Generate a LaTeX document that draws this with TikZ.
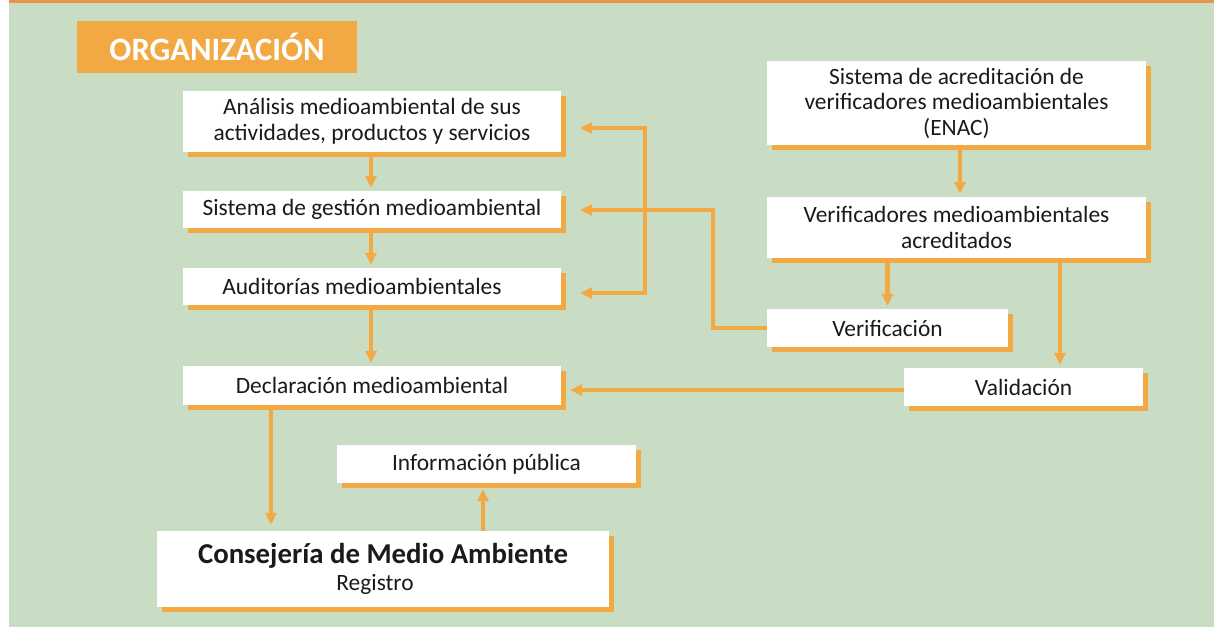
\documentclass[tikz,border=0pt]{standalone}
\usepackage{fontspec}
\setmainfont{Carlito}
\usetikzlibrary{arrows.meta,shadows,calc}
\definecolor{bggreen}{HTML}{C9DDC5}
\definecolor{boxorange}{HTML}{F2A843}
\definecolor{topline}{HTML}{E8924B}
\definecolor{txt}{HTML}{1A1A1A}
\tikzset{
  stepbox/.style={fill=white, draw=none, inner sep=0pt, align=center, text=txt,
    font=\fontsize{23.4}{25.5}\selectfont,
    general shadow={fill=boxorange, shadow xshift=5pt, shadow yshift=-5pt}},
  arr/.style={draw=boxorange, line width=4.5pt, line join=miter,
    -{Triangle[length=12pt,width=11pt]}, shorten >=3pt},
}
\begin{document}
\begin{tikzpicture}[x=1pt,y=-1pt]
\useasboundingbox (0,0) rectangle (1214,627);
\fill[white] (0,0) rectangle (1214,627);
\fill[bggreen] (9,3) rectangle (1214,627);
\fill[topline] (9,0) rectangle (1214,3);

\node[fill=boxorange, minimum width=280pt, minimum height=52pt, inner sep=0pt,
  text=white, font=\fontsize{32.6}{34}\selectfont\bfseries] (org) at (217,47) {ORGANIZACIÓN};

\node[stepbox, minimum width=378pt, minimum height=61pt] (A) at (372,121.5)
  {Análisis medioambiental de sus\\actividades, productos y servicios};
\node[stepbox, minimum width=378pt, minimum height=37pt] (B) at (372,209.5)
  {Sistema de gestión medioambiental};
\node[stepbox, minimum width=378pt, minimum height=37pt] (C) at (372,286.5)
  {\hspace*{-20pt}Auditorías medioambientales};
\node[stepbox, minimum width=378pt, minimum height=39pt] (D) at (372,385.5)
  {Declaración medioambiental};
\node[stepbox, minimum width=299pt, minimum height=38pt] (E) at (486.5,464)
  {Información pública};
\node[stepbox, minimum width=452pt, minimum height=76pt] (F) at (383,569)
  {{\fontsize{28.8}{30}\selectfont\bfseries Consejería de Medio Ambiente}\\[1pt]\hspace*{-16pt}Registro};
\node[stepbox, minimum width=379pt, minimum height=84pt] (G) at (956.5,103)
  {Sistema de acreditación de\\verificadores medioambientales\\(ENAC)};
\node[stepbox, minimum width=379pt, minimum height=61pt] (H) at (956.5,227.5)
  {Verificadores medioambientales\\acreditados};
\node[stepbox, minimum width=241pt, minimum height=38pt] (I) at (887.5,328)
  {Verificación};
\node[stepbox, minimum width=239pt, minimum height=38pt] (J) at (1023.5,387)
  {Validación};

\coordinate (brT) at (645,128);
\coordinate (brB) at (645,293);
\coordinate (vk) at (713,210);
\coordinate (gx) at (960,0);
\coordinate (jx) at (1060,0);
\coordinate (jd) at (904,390);
\coordinate (fx) at (271,0);
\coordinate (ex) at (483,0);

\draw[arr] (A.south -| 371,0) -- (B.north -| 371,0);
\draw[arr] (B.south -| 371,0) -- (C.north -| 371,0);
\draw[arr] (C.south -| 371,0) -- (D.north -| 371,0);
\draw[arr, shorten >=6pt] (D.south -| fx) -- (F.north -| fx);
\draw[arr, shorten >=0pt] (F.north -| ex) -- ($(E.south -| ex)+(0,6)$);

\draw[arr, {Triangle[length=12pt,width=11pt]}-{Triangle[length=12pt,width=11pt]}, shorten <=19pt, shorten >=19pt]
  (brT -| A.east) -- (brT) -- (brB) -- (brB -| C.east);
\draw[arr, shorten >=19pt] (I.west) -| (vk) -- (vk -| B.east);

\draw[arr] (G.south -| gx) -- (H.north -| gx);
\draw[arr] (H.south -| I.north) -- (I.north);
\draw[arr] (H.south -| jx) -- (J.north -| jx);
\draw[arr, shorten >=9pt] (jd) -- (jd -| D.east);
\end{tikzpicture}
\end{document}
